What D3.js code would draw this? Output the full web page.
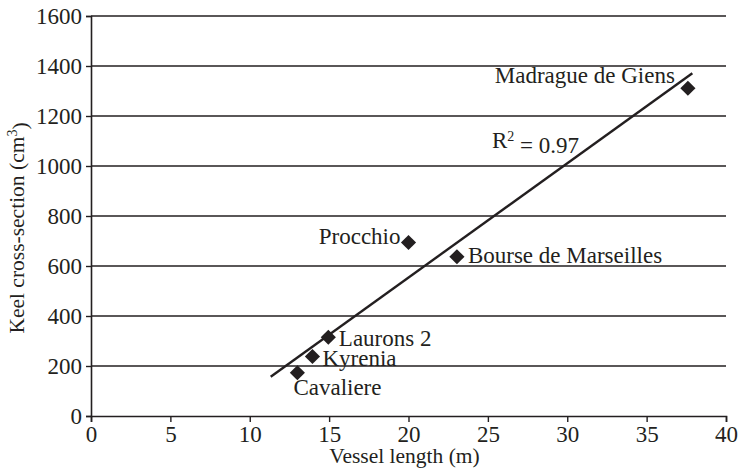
<!DOCTYPE html>
<html>
<head>
<meta charset="utf-8">
<script src="https://cdn.jsdelivr.net/npm/d3@7"></script>
<style>
  html, body { margin: 0; padding: 0; background: #fff; }
  svg { display: block; }
  text { font-family: "Liberation Serif", "DejaVu Serif", serif; fill: #231f20; }
</style>
</head>
<body>
<svg id="chart" width="738" height="469"></svg>
<script>
// ---- data ----
const vessels = ["Cavaliere", "Kyrenia", "Laurons 2", "Procchio", "Bourse de Marseilles", "Madrague de Giens"];
const vesselLength = [13, 13.95, 14.95, 20, 23.05, 37.6];      // m
const keelSection = [173, 238, 315, 694, 637, 1311];           // cm^3
const trendX = [11.32, 37.88];
const trendY = [157, 1371];
const xTicks = [0, 5, 10, 15, 20, 25, 30, 35, 40];
const yTicks = [0, 200, 400, 600, 800, 1000, 1200, 1400, 1600];
const r2Text = "0.97";

// ---- layout ----
const W = 738, H = 469;
const mLeft = 91, mRight = 726, mTop = 16, mBottom = 416;
const ink = "#231f20";
const serif = '"Liberation Serif", "DejaVu Serif", serif';
const labelOffset = {
  "Cavaliere": { dx: -4, dy: 22, anchor: "start" },
  "Kyrenia": { dx: 10, dy: 9, anchor: "start" },
  "Laurons 2": { dx: 10.5, dy: 9, anchor: "start" },
  "Procchio": { dx: -8, dy: 1, anchor: "end" },
  "Bourse de Marseilles": { dx: 11, dy: 6, anchor: "start" },
  "Madrague de Giens": { dx: -13, dy: -5, anchor: "end" }
};
const r2Pos = { x: 25.26, y: 1072 };

const svg = d3.select("#chart");
const x = d3.scaleLinear().domain([0, 40]).range([mLeft, mRight]);
const y = d3.scaleLinear().domain([0, 1600]).range([mBottom, mTop]);

// gridlines
svg.append("g")
  .selectAll("line")
  .data(yTicks.filter(d => d > 0))
  .join("line")
  .attr("x1", mLeft).attr("x2", mRight)
  .attr("y1", d => y(d)).attr("y2", d => y(d))
  .attr("stroke", ink).attr("stroke-width", 1.4);

// axes
const yAxis = svg.append("g")
  .attr("transform", `translate(${mLeft},0)`)
  .call(d3.axisLeft(y).tickValues(yTicks).tickSize(5).tickPadding(4).tickFormat(d3.format("d")));
const xAxis = svg.append("g")
  .attr("transform", `translate(0,${mBottom})`)
  .call(d3.axisBottom(x).tickValues(xTicks).tickSize(6).tickPadding(4).tickFormat(d3.format("d")));
[yAxis, xAxis].forEach(g => {
  g.attr("font-family", serif).attr("font-size", 23);
  g.select(".domain").attr("stroke", ink).attr("stroke-width", 1.6);
  g.selectAll(".tick line").attr("stroke", ink).attr("stroke-width", 1.4);
  g.selectAll(".tick text")
    .attr("fill", ink)
    .attr("font-family", serif)
    .style("font-family", serif)
    .style("font-size", "23px");
});
xAxis.selectAll(".tick text").attr("dy", "0.70em");

// axis titles
svg.append("text")
  .attr("x", 404.5).attr("y", 463)
  .attr("text-anchor", "middle")
  .style("font-size", "21.5px")
  .text("Vessel length (m)");

const yt = svg.append("text")
  .attr("transform", "translate(23.5,228) rotate(-90)")
  .attr("text-anchor", "middle")
  .style("font-size", "21.5px");
yt.append("tspan").text("Keel cross-section (cm");
yt.append("tspan").attr("dy", "-0.45em").style("font-size", "14px").text("3");
yt.append("tspan").attr("dy", "0.45em").text(")");

// trend line
svg.append("line")
  .attr("x1", x(trendX[0])).attr("y1", y(trendY[0]))
  .attr("x2", x(trendX[1])).attr("y2", y(trendY[1]))
  .attr("stroke", ink).attr("stroke-width", 2.4);

// points
const pts = vessels.map((n, i) => ({ name: n, len: vesselLength[i], sec: keelSection[i] }));
const diamond = d3.symbol().type(d3.symbolSquare).size(115);
svg.append("g")
  .selectAll("path")
  .data(pts)
  .join("path")
  .attr("d", diamond)
  .attr("transform", d => `translate(${x(d.len)},${y(d.sec)}) rotate(45)`)
  .attr("fill", ink);

// point labels
svg.append("g")
  .selectAll("text")
  .data(pts)
  .join("text")
  .attr("x", d => x(d.len) + labelOffset[d.name].dx)
  .attr("y", d => y(d.sec) + labelOffset[d.name].dy)
  .attr("text-anchor", d => labelOffset[d.name].anchor)
  .style("font-size", "23px")
  .text(d => d.name);

// R^2 label
const r2 = svg.append("text")
  .attr("x", x(r2Pos.x)).attr("y", y(r2Pos.y))
  .style("font-size", "23px");
r2.append("tspan").text("R");
r2.append("tspan").attr("dy", "-0.5em").style("font-size", "14px").text("2");
r2.append("tspan").attr("dy", "0.5em").text(" = " + r2Text);
</script>
</body>
</html>
